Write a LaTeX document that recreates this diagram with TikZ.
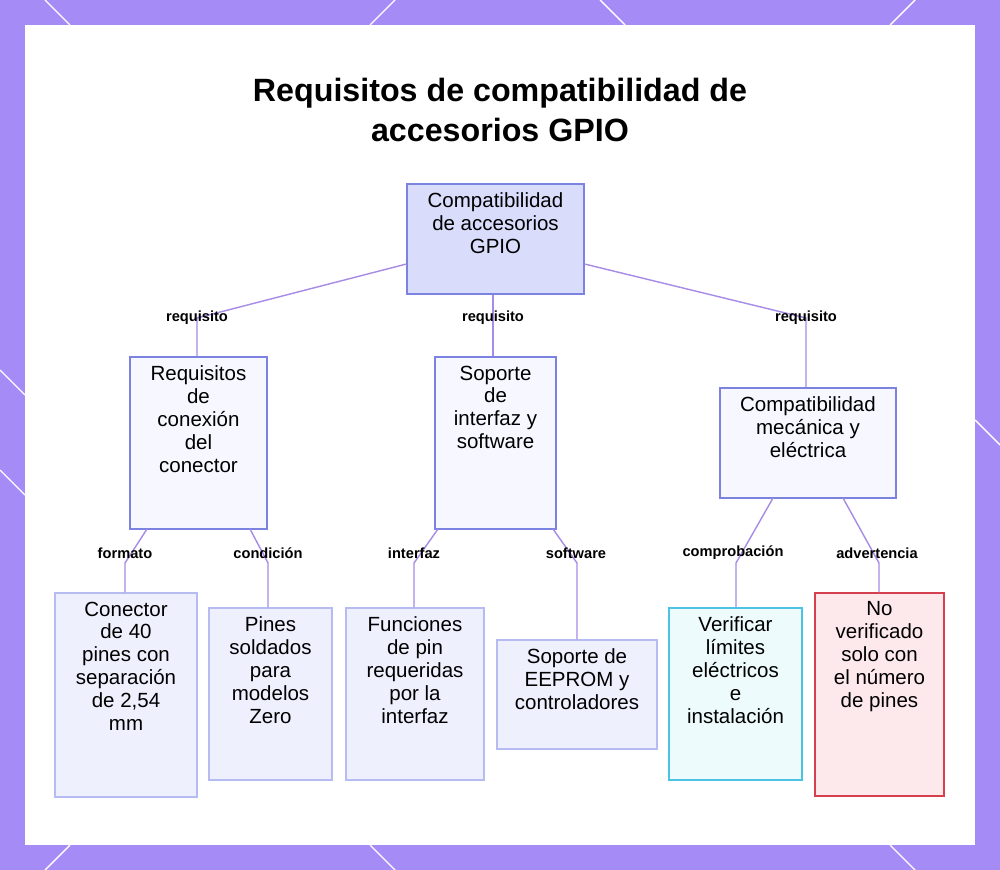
\documentclass[tikz,border=0pt]{standalone}
\usepackage{fontspec}
\setmainfont{Liberation Sans}
\usetikzlibrary{positioning, calc}
\definecolor{bgpurple}{HTML}{A48BF5}
\definecolor{linkc}{HTML}{A78BE6}
\definecolor{rootfill}{HTML}{DADCFC}
\definecolor{rootdraw}{HTML}{7C82E0}
\definecolor{midfill}{HTML}{F6F7FF}
\definecolor{leaffill}{HTML}{EFF0FE}
\definecolor{leafdraw}{HTML}{B6BBF2}
\definecolor{okfill}{HTML}{EEFBFD}
\definecolor{okdraw}{HTML}{4CC3E3}
\definecolor{warnfill}{HTML}{FDE8EC}
\definecolor{warndraw}{HTML}{D6404E}
\tikzset{
  box/.style={draw=rootdraw, line width=0.9pt, fill=midfill, inner sep=0pt},
  leaf/.style={box, draw=leafdraw, fill=leaffill},
  txt/.style={below, inner sep=0pt, align=center, font=\fontsize{17.5}{19.6}\selectfont},
  lbl/.style={font=\bfseries\fontsize{12.5}{14}\selectfont, inner sep=1pt},
  link/.style={draw=linkc, line width=1.2pt},
  deco/.style={draw=white, line width=1.2pt}
}
\newcommand{\mkbox}[6]{% style, name, x1, y1, x2, y2
  \node[#1, minimum width={(#5-#3)*0.03cm}, minimum height={(#6-#4)*0.03cm}]
    (#2) at ({(#3+#5)/2}, {(#4+#6)/2}) {};}
\begin{document}
\begin{tikzpicture}[x=0.03cm, y=-0.03cm]
\useasboundingbox (0,0) rectangle (1000,870);
\fill[bgpurple] (0,0) rectangle (1000,870);
\fill[white] (25,25) rectangle (975,845);
%% border decorations
\draw[deco] (45,0) -- (70,25);
\draw[deco] (370,25) -- (395,0);
\draw[deco] (600,0) -- (625,25);
\draw[deco] (890,25) -- (915,0);
\draw[deco] (0,370) -- (25,395);
\draw[deco] (0,470) -- (25,495);
\draw[deco] (975,420) -- (1000,445);
\draw[deco] (45,870) -- (70,845);
\draw[deco] (370,845) -- (395,870);
\draw[deco] (890,845) -- (915,870);

\node[font=\bfseries\fontsize{27.5}{34}\selectfont, align=center] (title) at (500,110)
  {Requisitos de compatibilidad de\\accesorios GPIO};

%% boxes
\mkbox{box, fill=rootfill}{root}{407}{184}{584}{294}
\mkbox{box}{conn}{130}{357}{267}{529}
\mkbox{box}{soft}{435}{357}{556}{529}
\mkbox{box}{mech}{720}{388}{896}{498}
\mkbox{leaf}{pins}{55}{593}{197}{797}
\mkbox{leaf}{zero}{209}{608}{332}{780}
\mkbox{leaf}{func}{346}{608}{484}{780}
\mkbox{leaf}{eeprom}{497}{640}{657}{749}
\mkbox{box, draw=okdraw, fill=okfill}{check}{669}{608}{802}{780}
\mkbox{box, draw=warndraw, fill=warnfill}{warn}{815}{593}{944}{796}

\node[txt] (troot) at ($(root.north)+(0,9)$) {Compatibilidad\\de accesorios\\GPIO};
\node[txt] (tconn) at ($(conn.north)+(0,9)$) {Requisitos\\de\\conexión\\del\\conector};
\node[txt] (tsoft) at ($(soft.north)+(0,9)$) {Soporte\\de\\interfaz y\\software};
\node[txt] (tmech) at ($(mech.north)+(0,9)$) {Compatibilidad\\mecánica y\\eléctrica};
\node[txt] (tpins) at ($(pins.north)+(0,9)$) {Conector\\de 40\\pines con\\separación\\de 2,54\\mm};
\node[txt] (tzero) at ($(zero.north)+(0,9)$) {Pines\\soldados\\para\\modelos\\Zero};
\node[txt] (tfunc) at ($(func.north)+(0,9)$) {Funciones\\de pin\\requeridas\\por la\\interfaz};
\node[txt] (teeprom) at ($(eeprom.north)+(0,9)$) {Soporte de\\EEPROM y\\controladores};
\node[txt] (tcheck) at ($(check.north)+(0,9)$) {Verificar\\límites\\eléctricos\\e\\instalación};
\node[txt] (twarn) at ($(warn.north)+(0,9)$) {No\\verificado\\solo con\\el número\\de pines};

%% connectors
\coordinate (r1) at (197,318);
\coordinate (r2) at (493,318);
\coordinate (r3) at (806,318);
\draw[link] (root.west |- 0,264) -- (r1) -- (r1 |- conn.north);
\draw[link] (r2 |- root.south) -- (r2) -- (r2 |- soft.north);
\draw[link] (root.east |- 0,264) -- (r3) -- (r3 |- mech.north);

\coordinate (c1) at (125,563);
\coordinate (c2) at (268,563);
\coordinate (c3) at (414,563);
\coordinate (c4) at (577,563);
\coordinate (c5) at (736,563);
\coordinate (c6) at (879,563);
\draw[link] (147,529) -- (c1) -- (c1 |- pins.north);
\draw[link] (250,529) -- (c2) -- (c2 |- zero.north);
\draw[link] (438,529) -- (c3) -- (c3 |- func.north);
\draw[link] (553,529) -- (c4) -- (c4 |- eeprom.north);
\draw[link] (773,498) -- (c5) -- (c5 |- check.north);
\draw[link] (843,498) -- (c6) -- (c6 |- warn.north);

%% labels
\node[lbl] at (197,318) {requisito};
\node[lbl] at (493,318) {requisito};
\node[lbl] at (806,318) {requisito};
\node[lbl] at (125,553) {formato};
\node[lbl] at (268,553) {condición};
\node[lbl] at (414,553) {interfaz};
\node[lbl] at (576,553) {software};
\node[lbl] at (733,553) {comprobación};
\node[lbl] at (877,553) {advertencia};
\end{tikzpicture}
\end{document}
